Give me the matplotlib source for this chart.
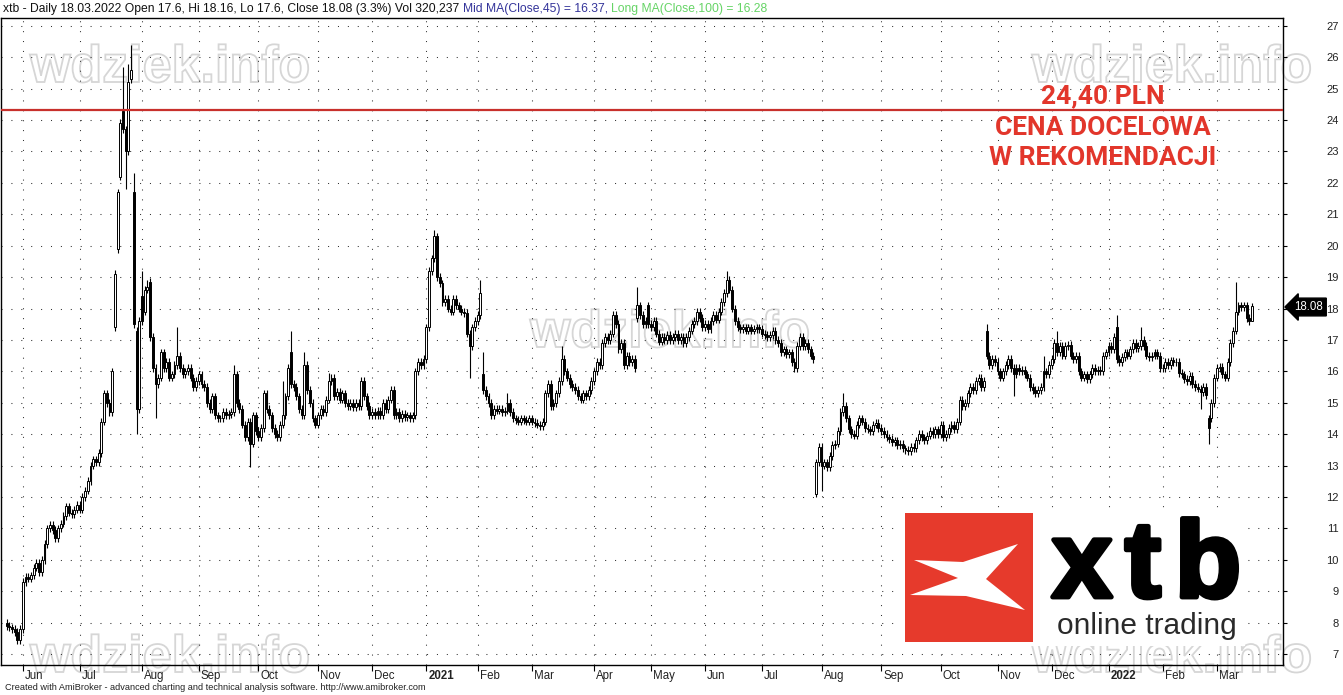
import numpy as np
import matplotlib
matplotlib.use('Agg')
import matplotlib.pyplot as plt
import matplotlib.patheffects as pe
from matplotlib.patches import Rectangle, Polygon, PathPatch
from matplotlib.textpath import TextPath
from matplotlib.font_manager import FontProperties
from matplotlib.transforms import Affine2D

W, H = 1343, 695
FONT = ['Liberation Sans', 'DejaVu Sans']

# ---- daily closes, one list per month ----
close_may20 = [7.9, 7.85, 7.8, 7.7, 7.45, 7.8]
close_jun20 = [9.3, 9.45, 9.4, 9.5, 9.75, 9.9, 9.6, 10.0, 10.5, 11.0, 11.1, 10.95, 10.7, 11.0,
               11.15, 11.4, 11.7, 11.5, 11.45, 11.6, 11.75]
close_jul20 = [11.6, 12.0, 12.2, 12.5, 13.0, 13.2, 13.1, 13.4, 14.4, 15.3, 15.0, 14.7, 16.0, 19.1,
               21.7, 23.9, 23.7, 23.0, 25.2, 25.6, 17.5, 14.8, 17.6]
close_aug20 = [17.6, 18.6, 18.7, 17.1, 16.1, 15.6, 15.8, 16.6, 16.1, 16.3, 15.8, 15.9, 16.2, 16.5,
               16.1, 15.9, 16.0, 16.1, 15.8, 15.5, 15.7]
close_sep20 = [15.9, 15.6, 15.5, 15.0, 14.8, 15.2, 14.6, 14.5, 14.5, 14.7, 14.6, 14.65, 14.7, 15.9,
               15.0, 14.8, 14.3, 13.9, 14.4, 13.7, 14.6, 14.1]
close_oct20 = [13.9, 14.2, 15.3, 14.8, 14.6, 14.2, 14.0, 13.9, 14.3, 14.6, 15.2, 16.1, 15.6, 15.5,
               15.2, 14.8, 14.6, 16.2, 15.4, 15.0, 14.5, 14.3]
close_nov20 = [14.6, 14.8, 14.7, 15.1, 15.7, 15.8, 15.2, 15.35, 15.1, 15.3, 15.0, 14.9, 15.0, 14.85,
               15.0, 14.9, 15.7, 15.2, 14.9, 14.6]
close_dec20 = [14.7, 14.6, 14.75, 14.6, 15.0, 14.8, 15.1, 15.4, 14.6, 14.7, 14.5, 14.65, 14.55, 14.6,
               14.5, 14.6, 16.0, 16.3, 16.2, 16.4]
close_jan21 = [17.4, 19.2, 19.6, 20.3, 19.0, 18.8, 18.2, 18.3, 18.0, 17.9, 18.3, 18.1, 18.0, 17.9,
               17.85, 17.2, 16.8, 17.4, 17.6]
close_feb21 = [17.8, 18.5, 15.4, 15.2, 15.0, 14.6, 14.8, 14.75, 14.8, 14.7, 14.75, 15.0, 14.7, 14.5,
               14.45, 14.4, 14.5, 14.45, 14.4, 14.5]
close_mar21 = [14.4, 14.35, 14.3, 14.25, 14.4, 15.3, 15.6, 14.9, 15.0, 15.3, 15.7, 16.4, 16.0, 15.8,
               15.6, 15.5, 15.4, 15.2, 15.1, 15.3, 15.2, 15.4, 15.7]
close_apr21 = [16.0, 16.3, 16.2, 16.9, 17.1, 17.0, 17.2, 17.8, 17.5, 16.7, 16.9, 16.2, 16.5, 16.3,
               16.4, 16.1, 18.1, 17.8, 17.5, 17.6, 17.5]
close_may21 = [17.4, 17.6, 17.2, 16.95, 17.1, 17.0, 17.15, 17.0, 17.1, 17.2, 17.0, 17.1, 16.9, 17.1,
               17.3, 17.5, 17.6, 17.9, 17.7, 17.4]
close_jun21 = [17.5, 17.35, 17.6, 17.8, 17.65, 17.9, 18.2, 18.5, 18.9, 18.6, 18.0, 17.6, 17.4, 17.35,
               17.4, 17.3, 17.4, 17.3, 17.35, 17.4, 17.35]
close_jul21 = [17.2, 17.15, 17.1, 17.15, 17.3, 17.0, 16.9, 16.6, 16.7, 16.55, 16.6, 16.3, 16.1, 16.8,
               17.1, 16.8, 16.9, 16.7, 16.5, 16.4, 13.1, 13.6]
close_aug21 = [13.0, 13.1, 12.95, 13.3, 13.65, 13.7, 14.1, 14.7, 14.9, 14.5, 14.15, 14.0, 13.95, 14.3,
               14.5, 14.4, 14.2, 14.15, 14.1, 14.3, 14.35, 14.2]
close_sep21 = [14.1, 14.0, 13.9, 13.85, 13.75, 13.8, 13.65, 13.7, 13.55, 13.5, 13.45, 13.6, 13.55, 13.8,
               14.0, 13.9, 13.8, 13.95, 14.1, 14.0, 14.15, 14.0]
close_oct21 = [14.3, 13.9, 14.0, 14.2, 14.3, 14.15, 14.4, 15.1, 14.9, 15.0, 15.3, 15.5, 15.4, 15.7,
               15.8, 15.5, 15.7, 16.5, 16.2, 16.4, 16.3]
close_nov21 = [16.0, 15.8, 16.0, 16.2, 16.4, 16.1, 15.9, 16.1, 16.0, 16.05, 15.9, 15.8, 15.5, 15.4,
               15.3, 15.4, 15.5, 16.0, 15.9, 16.2]
close_dec21 = [16.4, 16.9, 16.6, 16.8, 16.5, 16.8, 16.85, 16.5, 16.4, 16.5, 16.0, 15.8, 15.9, 15.75,
               15.9, 16.1, 16.0, 16.05, 16.0, 16.5, 16.6]
close_jan22 = [16.8, 16.7, 17.1, 16.4, 16.3, 16.45, 16.6, 16.5, 16.7, 16.9, 16.75, 16.8, 17.0, 16.8,
               16.5, 16.45, 16.5, 16.6, 16.5, 16.1]
close_feb22 = [16.1, 16.3, 16.2, 16.35, 16.3, 16.3, 15.95, 15.9, 15.75, 15.7, 15.85, 15.6, 15.5, 15.45,
               15.35, 15.5, 15.25, 14.2, 15.0, 15.8]
close_mar22 = [16.1, 16.15, 15.9, 15.8, 16.3, 16.9, 17.3, 17.9, 18.1, 18.05, 18.1, 17.7, 17.6, 18.08]

month_keys = ['May20', 'Jun20', 'Jul20', 'Aug20', 'Sep20', 'Oct20', 'Nov20', 'Dec20',
              'Jan21', 'Feb21', 'Mar21', 'Apr21', 'May21', 'Jun21', 'Jul21', 'Aug21',
              'Sep21', 'Oct21', 'Nov21', 'Dec21', 'Jan22', 'Feb22', 'Mar22']
month_closes = [close_may20, close_jun20, close_jul20, close_aug20, close_sep20, close_oct20,
                close_nov20, close_dec20, close_jan21, close_feb21, close_mar21, close_apr21,
                close_may21, close_jun21, close_jul21, close_aug21, close_sep21, close_oct21,
                close_nov21, close_dec21, close_jan22, close_feb22, close_mar22]
month_labels = ['', 'Jun', 'Jul', 'Aug', 'Sep', 'Oct', 'Nov', 'Dec', '2021', 'Feb', 'Mar', 'Apr',
                'May', 'Jun', 'Jul', 'Aug', 'Sep', 'Oct', 'Nov', 'Dec', '2022', 'Feb', 'Mar']

first_open = 8.0
# opens that gap away from the previous close
open_fix = {('Jul20', 13): 17.4, ('Jul20', 14): 19.9, ('Jul20', 15): 22.2, ('Jul20', 16): 24.3,
            ('Jul20', 19): 25.3, ('Jul20', 20): 21.7, ('Jul20', 21): 17.3,
            ('Aug20', 0): 18.4, ('Aug20', 1): 17.9, ('Aug20', 3): 18.85,
            ('Oct20', 12): 16.6, ('Feb21', 2): 15.9, ('Apr21', 16): 17.7, ('Apr21', 20): 18.1,
            ('Jul21', 20): 12.1, ('Oct21', 17): 17.3, ('Jan22', 3): 17.4,
            ('Feb22', 17): 14.5, ('Feb22', 18): 14.5, ('Mar22', 13): 17.6}
# notable wicks
high_fix = {('Jul20', 16): 25.7, ('Jul20', 18): 25.8, ('Jul20', 19): 26.4, ('Jul20', 20): 22.3,
            ('Aug20', 0): 19.2, ('Aug20', 2): 18.9, ('Aug20', 13): 17.4, ('Sep20', 13): 16.2,
            ('Oct20', 9): 15.7, ('Oct20', 12): 17.3, ('Oct20', 17): 16.6, ('Nov20', 4): 15.95,
            ('Jan21', 3): 20.5, ('Feb21', 1): 18.9, ('Feb21', 2): 16.6, ('Feb21', 11): 15.3,
            ('Mar21', 11): 16.8, ('Apr21', 16): 18.7, ('Jun21', 8): 19.2, ('Aug21', 8): 15.3,
            ('Oct21', 17): 17.5, ('Nov21', 17): 16.5, ('Dec21', 2): 17.3, ('Jan22', 3): 17.8,
            ('Jan22', 12): 17.4, ('Mar22', 7): 18.85, ('Mar22', 13): 18.16}
low_fix = {('Jul20', 17): 21.8, ('Jul20', 21): 14.0, ('Aug20', 5): 14.5, ('Sep20', 19): 12.95,
           ('Jan21', 16): 15.8, ('Jul21', 20): 12.0, ('Aug21', 0): 12.2, ('Nov21', 6): 15.2,
           ('Feb22', 14): 14.8, ('Feb22', 17): 13.7, ('Mar22', 13): 17.6}
WICK = 0.12

target_price = 24.33
last_close_label = '18.08'

# ---- build OHLC ----
o_l, h_l, l_l, c_l, starts = [], [], [], [], []
prev = first_open
for key, cl in zip(month_keys, month_closes):
    starts.append(len(c_l))
    for k, c in enumerate(cl):
        o = open_fix.get((key, k), prev)
        o_l.append(o)
        c_l.append(c)
        h_l.append(high_fix.get((key, k), max(o, c) + WICK))
        l_l.append(low_fix.get((key, k), min(o, c) - WICK))
        prev = c
op, hi, lo, cl = map(np.array, (o_l, h_l, l_l, c_l))
n = len(cl)
x = np.arange(n)

fig = plt.figure(figsize=(W / 100, H / 100), dpi=100, facecolor='white')
ax = fig.add_axes([1 / W, (H - 665) / H, 1282 / W, 647 / H])
ax.patch.set_visible(False)

step = (1252 - 6.6) / (n - 1)
ax.set_xlim((1 - 6.6) / step, (1283 - 6.6) / step)
ax.set_ylim(6.65, 27.25)

# dotted grid
dots = dict(color='#333333', lw=0.75, linestyle=(0, (1, 8.5)), zorder=1)
for v in range(7, 28):
    ax.axhline(v, **dots)
for s in starts[1:]:
    ax.axvline(s, **dots)

# candles
up = cl >= op
ax.vlines(x, lo, hi, color='black', lw=0.8, zorder=3)
ax.bar(x[up], (cl - op)[up], bottom=op[up], width=0.7, color='white',
       edgecolor='black', linewidth=0.7, zorder=4)
ax.bar(x[~up], (op - cl)[~up], bottom=cl[~up], width=0.7, color='black',
       edgecolor='black', linewidth=0.7, zorder=4)

ax.axhline(target_price, color='#c8302c', lw=1.6, zorder=5)

# axes / ticks
for sp in ax.spines.values():
    sp.set_color('black')
    sp.set_linewidth(1.0)
ax.yaxis.tick_right()
ax.set_yticks(range(7, 28))
ax.set_yticklabels([str(v) for v in range(7, 28)], fontsize=8, family=FONT, color='#222222')
ax.tick_params(axis='y', direction='out', length=3, width=0.8, pad=37)
for t in ax.get_yticklabels():
    t.set_horizontalalignment('right')
ax.set_xticks(starts[1:])
ax.set_xticklabels([])
ax.tick_params(axis='x', direction='out', length=4, width=0.8)
for s, lab in zip(starts[1:], month_labels[1:]):
    ax.text(s + 0.8, -0.017, lab, transform=ax.get_xaxis_transform(), ha='left', va='center',
            fontsize=8.3, family=FONT, fontweight='bold' if lab.isdigit() else 'normal',
            color='#222222')

# watermarks (outlined text)
wm_path = TextPath((0, 0), 'wdziek.info',
                   prop=FontProperties(family='Liberation Sans', weight='bold', size=52))
for x0, yb in [(30, 82), (1032, 82), (530, 347), (30, 672), (1032, 672)]:
    fig.patches.append(PathPatch(wm_path, transform=Affine2D().translate(x0, H - yb),
                                 fc='none', ec='#d6d6d6', lw=1.3, zorder=-1))

# header
renderer = fig.canvas.get_renderer()
header_parts = [('xtb - Daily 18.03.2022 Open 17.6, Hi 18.16, Lo 17.6, Close 18.08 (3.3%) Vol 320,237 ', '#111111'),
                ('Mid MA(Close,45) = 16.37, ', '#34349a'),
                ('Long MA(Close,100) = 16.28', '#66d466')]
xpos = 3
for txt, col in header_parts:
    t = fig.text(xpos / W, 1 - 9 / H, txt, color=col, fontsize=8.7, family=FONT,
                 ha='left', va='center')
    xpos += t.get_window_extent(renderer).width

fig.text(5 / W, 1 - 688 / H,
         'Created with AmiBroker - advanced charting and technical analysis software. http://www.amibroker.com',
         fontsize=6.6, family=FONT, color='#222222', ha='left', va='center')

# last price marker
fig.text(1309 / W, 1 - 307 / H, last_close_label, color='white', fontsize=8.3, family=FONT,
         ha='center', va='center', zorder=6,
         bbox=dict(boxstyle='larrow,pad=0.25', fc='black', ec='black'))

# target annotation
red = '#e2362b'
for txt, yc in [('24,40 PLN', 96), ('CENA DOCELOWA', 128), ('W REKOMENDACJI', 158)]:
    fig.text(1103 / W, 1 - yc / H, txt, color=red, fontsize=19, family=['Roboto', 'DejaVu Sans'],
             fontweight='bold', ha='center', va='center', zorder=6)

# xtb logo
pix = Affine2D()
fig.patches.append(Rectangle((900, H - 646), 345, 138, transform=pix, fc='white', ec='none', zorder=2))
fig.patches.append(Rectangle((905, H - 642), 128, 129, transform=pix, fc='#e63a2c', ec='none', zorder=3))
x_shape = [(914, 560), (963, 562), (1018, 544), (986, 579), (1025, 610), (966, 596),
           (910, 595), (958, 578)]
fig.patches.append(Polygon([(px, H - py) for px, py in x_shape], closed=True, transform=pix,
                           fc='white', ec='none', zorder=4))
for ch, xc in [('x', 1082), ('t', 1143), ('b', 1208)]:
    fig.text(xc / W, 1 - 597 / H, ch, fontsize=78, family=FONT, fontweight='bold', color='black',
             ha='center', va='baseline', zorder=5,
             path_effects=[pe.withStroke(linewidth=3.5, foreground='black')])
fig.text(1057 / W, 1 - 634 / H, 'online trading', fontsize=21.5, family=FONT, color='#2a2a2a',
         ha='left', va='baseline', zorder=5)

fig.savefig('out.png', dpi=100, facecolor='white')
